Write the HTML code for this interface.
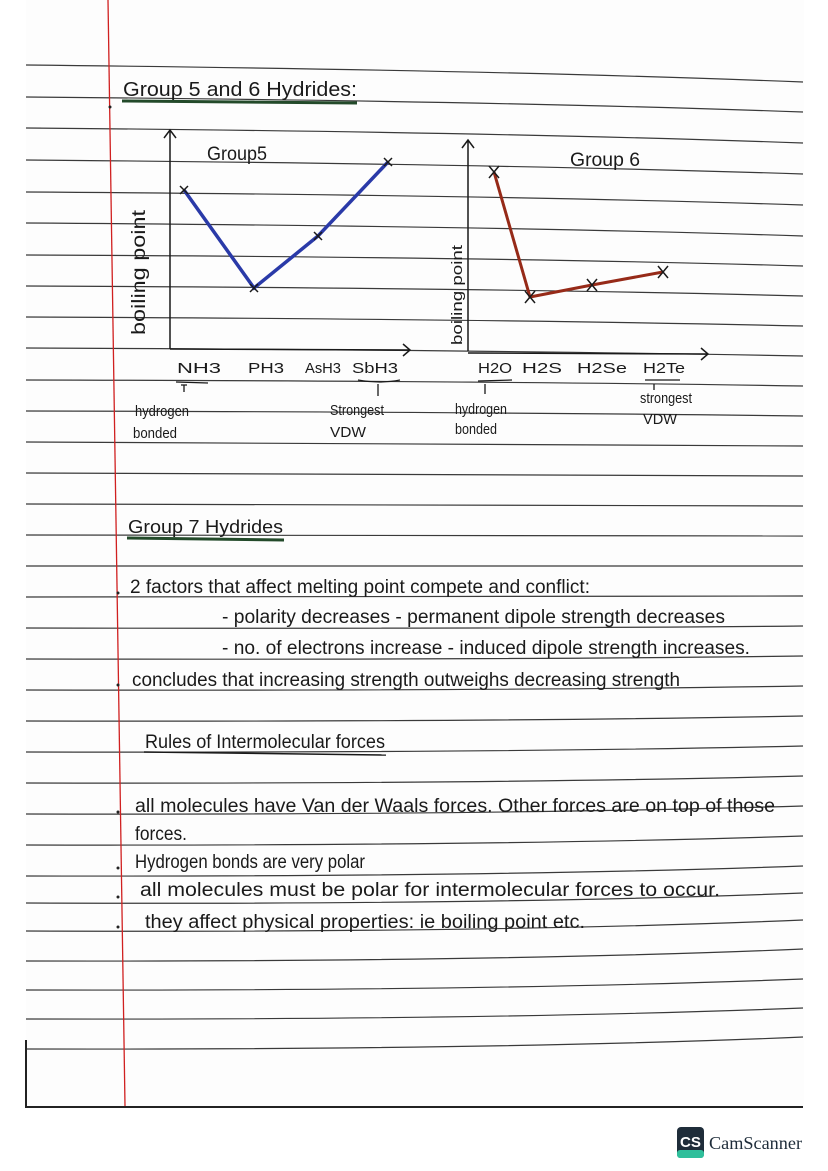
<!DOCTYPE html>
<html><head><meta charset="utf-8"><style>
html,body{margin:0;padding:0;background:#fff;}
svg{display:block}
text{font-family:"Liberation Sans",sans-serif;fill:#1a1a1a}
</style></head><body>
<svg width="828" height="1171" viewBox="0 0 828 1171" xmlns="http://www.w3.org/2000/svg">
<rect width="828" height="1171" fill="#fff"/>
<rect x="26" y="0" width="778" height="1107" fill="#fdfdfd"/>
<g stroke="#3a3a3a" stroke-width="1.2" fill="none">
<path d="M26 65 Q500 70 803 82"/>
<path d="M26 97 Q500 101 803 112"/>
<path d="M26 128 Q500 132 803 143"/>
<path d="M26 160 Q500 164 803 174"/>
<path d="M26 192 Q500 195 803 205"/>
<path d="M26 223 Q500 226 803 236"/>
<path d="M26 255 Q500 257 803 266"/>
<path d="M26 286 Q500 288 803 296"/>
<path d="M26 317 Q500 319 803 326"/>
<path d="M26 348 Q500 350 803 356"/>
<path d="M26 380 Q500 381 803 386"/>
<path d="M26 411 Q500 412 803 416"/>
<path d="M26 442 Q500 443 803 446"/>
<path d="M26 473 Q500 474 803 476"/>
<path d="M26 504 Q500 505 803 506"/>
<path d="M26 535 Q500 536 803 536"/>
<path d="M26 566 Q500 567 803 566"/>
<path d="M26 597 Q500 598 803 596"/>
<path d="M26 628 Q500 629 803 626"/>
<path d="M26 659 Q500 660 803 656"/>
<path d="M26 690 Q500 691 803 686"/>
<path d="M26 721 Q500 722 803 716"/>
<path d="M26 752 Q500 753 803 746"/>
<path d="M26 783 Q500 784 803 776"/>
<path d="M26 814 Q500 815 803 806"/>
<path d="M26 845 Q500 846 803 836"/>
<path d="M26 876 Q500 877 803 866"/>
<path d="M26 903 Q500 905 803 893"/>
<path d="M26 931 Q500 933 803 920"/>
<path d="M26 961 Q500 962 803 949"/>
<path d="M26 990 Q500 991 803 979"/>
<path d="M26 1019 Q500 1020 803 1008"/>
<path d="M26 1049 Q500 1050 803 1037"/>
</g>
<path d="M108 0 L125 1106" stroke="#d02020" stroke-width="1.3"/>
<path d="M26 1040 L26 1107 L803 1107" stroke="#222" stroke-width="2" fill="none"/>

<!-- title -->
<text x="123" y="96" font-size="20" textLength="234" lengthAdjust="spacingAndGlyphs">Group 5 and 6 Hydrides:</text>
<path d="M122 101 L357 103" stroke="#234a2a" stroke-width="3"/>
<circle cx="110" cy="107" r="1.5" fill="#222"/>

<!-- Group 5 chart -->
<g stroke="#1a1a1a" stroke-width="1.5" fill="none">
<path d="M170 349 L170 130 M164 138 L170 130 L176 138"/>
<path d="M170 349 L410 350 M403 344 L410 350 L403 356"/>
<path d="M468 351 L468 140 M462 148 L468 140 L474 148"/>
<path d="M468 353 L708 354 M701 348 L708 354 L701 360"/>
</g>
<polyline points="184,190 254,288 318,236 388,162" fill="none" stroke="#2a3aa8" stroke-width="3.5"/>
<g stroke="#1a1a1a" stroke-width="1.5">
<path d="M180 186 L188 194 M188 186 L180 194"/>
<path d="M250 284 L258 292 M258 284 L250 292"/>
<path d="M314 232 L322 240 M322 232 L314 240"/>
<path d="M384 158 L392 166 M392 158 L384 166"/>
</g>
<text x="207" y="160" font-size="19" textLength="60" lengthAdjust="spacingAndGlyphs">Group5</text>
<text transform="translate(145 335) rotate(-90)" font-size="19" textLength="125" lengthAdjust="spacingAndGlyphs">boiling point</text>

<!-- Group 6 chart -->
<polyline points="494,172 530,297 592,285 663,272" fill="none" stroke="#962a18" stroke-width="3"/>
<g stroke="#1a1a1a" stroke-width="1.5">
<path d="M489 166 L499 178 M499 166 L489 178"/>
<path d="M525 291 L535 303 M535 291 L525 303"/>
<path d="M587 279 L597 291 M597 279 L587 291"/>
<path d="M658 266 L668 278 M668 266 L658 278"/>
</g>
<text x="570" y="166" font-size="19" textLength="70" lengthAdjust="spacingAndGlyphs">Group 6</text>
<text transform="translate(462 345) rotate(-90)" font-size="15" textLength="100" lengthAdjust="spacingAndGlyphs">boiling point</text>

<g font-size="15">
<text x="177" y="373" textLength="44" lengthAdjust="spacingAndGlyphs">NH3</text>
<text x="248" y="373" textLength="36" lengthAdjust="spacingAndGlyphs">PH3</text>
<text x="305" y="373" textLength="36" lengthAdjust="spacingAndGlyphs">AsH3</text>
<text x="352" y="373" textLength="46" lengthAdjust="spacingAndGlyphs">SbH3</text>
<text x="478" y="373" textLength="34" lengthAdjust="spacingAndGlyphs">H2O</text>
<text x="522" y="373" textLength="40" lengthAdjust="spacingAndGlyphs">H2S</text>
<text x="577" y="373" textLength="50" lengthAdjust="spacingAndGlyphs">H2Se</text>
<text x="643" y="373" textLength="42" lengthAdjust="spacingAndGlyphs">H2Te</text>
</g>
<g stroke="#1a1a1a" stroke-width="1.3" fill="none">
<path d="M176 382 L208 383 M181 385 L187 385 M184 385 L184 392"/>
<path d="M358 380 Q380 384 400 380 M378 384 L378 396"/>
<path d="M478 381 L512 380 M485 384 L485 394"/>
<path d="M645 380 L680 380 M654 384 L654 390"/>
</g>
<g font-size="15">
<text x="135" y="416" textLength="54" lengthAdjust="spacingAndGlyphs">hydrogen</text>
<text x="133" y="438" textLength="44" lengthAdjust="spacingAndGlyphs">bonded</text>
<text x="330" y="415" textLength="54" lengthAdjust="spacingAndGlyphs">Strongest</text>
<text x="330" y="437" textLength="36" lengthAdjust="spacingAndGlyphs">VDW</text>
<text x="455" y="414" textLength="52" lengthAdjust="spacingAndGlyphs">hydrogen</text>
<text x="455" y="434" textLength="42" lengthAdjust="spacingAndGlyphs">bonded</text>
<text x="640" y="403" textLength="52" lengthAdjust="spacingAndGlyphs">strongest</text>
<text x="643" y="424" textLength="34" lengthAdjust="spacingAndGlyphs">VDW</text>
</g>

<!-- Group 7 -->
<text x="128" y="533" font-size="18" textLength="155" lengthAdjust="spacingAndGlyphs">Group 7 Hydrides</text>
<path d="M127 538 L284 540" stroke="#234a2a" stroke-width="3"/>

<g font-size="19">
<circle cx="118" cy="593" r="1.5" fill="#222"/>
<text x="130" y="593" textLength="460" lengthAdjust="spacingAndGlyphs">2 factors that affect melting point compete and conflict:</text>
<text x="222" y="623" textLength="503" lengthAdjust="spacingAndGlyphs">- polarity decreases - permanent dipole strength decreases</text>
<text x="222" y="654" textLength="528" lengthAdjust="spacingAndGlyphs">- no. of electrons increase - induced dipole strength increases.</text>
<circle cx="118" cy="685" r="1.5" fill="#222"/>
<text x="132" y="686" textLength="548" lengthAdjust="spacingAndGlyphs">concludes that increasing strength outweighs decreasing strength</text>
<text x="145" y="748" textLength="240" lengthAdjust="spacingAndGlyphs">Rules of Intermolecular forces</text>
<circle cx="118" cy="812" r="1.5" fill="#222"/>
<text x="135" y="812" textLength="640" lengthAdjust="spacingAndGlyphs">all molecules have Van der Waals forces. Other forces are on top of those</text>
<text x="135" y="840" textLength="52" lengthAdjust="spacingAndGlyphs">forces.</text>
<circle cx="118" cy="868" r="1.5" fill="#222"/>
<text x="135" y="868" textLength="230" lengthAdjust="spacingAndGlyphs">Hydrogen bonds are very polar</text>
<circle cx="118" cy="897" r="1.5" fill="#222"/>
<text x="140" y="896" textLength="580" lengthAdjust="spacingAndGlyphs">all molecules must be polar for intermolecular forces to occur.</text>
<circle cx="118" cy="927" r="1.5" fill="#222"/>
<text x="145" y="928" textLength="440" lengthAdjust="spacingAndGlyphs">they affect physical properties: ie boiling point etc.</text>
</g>
<path d="M144 752 L386 755" stroke="#1a1a1a" stroke-width="1.5"/>

<!-- CamScanner -->
<rect x="677" y="1127" width="27" height="31" rx="4" fill="#1f2d3a"/>
<rect x="677" y="1150" width="27" height="8" rx="3" fill="#2fbf9b"/>
<text x="680" y="1147" font-size="15" font-weight="bold" style="fill:#fff" textLength="21" lengthAdjust="spacingAndGlyphs">CS</text>
<text x="709" y="1149" font-size="18" style="font-family:'Liberation Serif',serif;fill:#1f2d3a" textLength="93" lengthAdjust="spacingAndGlyphs">CamScanner</text>
</svg>
</body></html>
